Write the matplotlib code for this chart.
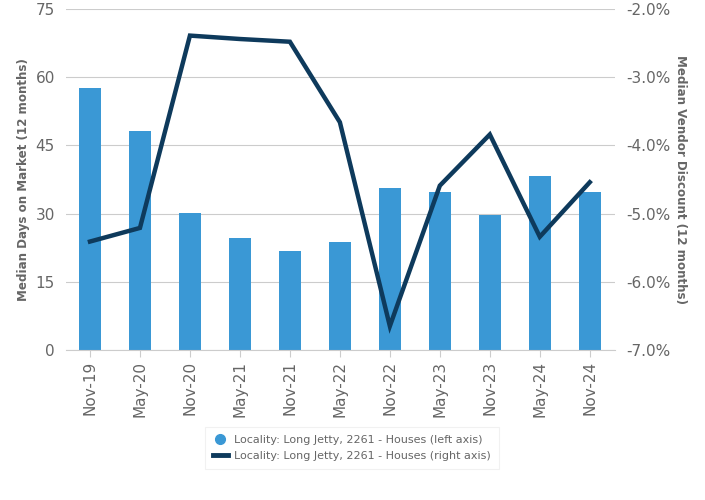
import matplotlib
matplotlib.use("Agg")
import matplotlib.pyplot as plt
from matplotlib.lines import Line2D

categories = ["Nov-19", "May-20", "Nov-20", "May-21", "Nov-21", "May-22",
              "Nov-22", "May-23", "Nov-23", "May-24", "Nov-24"]
days_on_market = [57.6, 48.2, 30.2, 24.6, 21.8, 23.8, 35.6, 34.7, 29.7, 38.3, 34.7]
vendor_discount = [-5.41, -5.21, -2.39, -2.44, -2.48, -3.66, -6.65, -4.59, -3.84, -5.34, -4.54]
left_ticks = [0, 15, 30, 45, 60, 75]
right_ticks = [-7.0, -6.0, -5.0, -4.0, -3.0, -2.0]
series_name = "Locality: Long Jetty, 2261 - Houses"

bar_color = "#3a98d5"
line_color = "#0e3a5c"
text_color = "#666666"

plt.rcParams['font.family'] = ['DejaVu Sans']
fig = plt.figure(figsize=(7.05, 5.0), dpi=100)
ax = fig.add_axes([0.0936, 0.30, 0.7784, 0.682])
x = list(range(len(categories)))
ax.bar(x, days_on_market, width=0.45, color=bar_color, zorder=2)
ax.set_xlim(-0.48, 10.5)
ax.set_ylim(0, 75)
ax.set_yticks(left_ticks)
ax.set_yticklabels([str(t) for t in left_ticks])
ax.grid(axis='y', color='#cccccc', linewidth=0.8, zorder=0)
ax.set_axisbelow(True)
for s in ['top', 'right', 'left']:
    ax.spines[s].set_visible(False)
ax.spines['bottom'].set_color('#cccccc')
ax.tick_params(axis='y', length=0, labelsize=11, labelcolor=text_color, pad=8)
ax.tick_params(axis='x', length=5, color='#cccccc', labelsize=11, labelcolor=text_color, pad=3)
ax.set_xticks(x)
ax.set_xticklabels(categories, rotation=90)
ax.set_ylabel("Median Days on Market (12 months)", fontsize=8.6, fontweight='bold', color=text_color, labelpad=4)

ax2 = ax.twinx()
ax2.plot(x, vendor_discount, color=line_color, linewidth=3.2, zorder=3, solid_joinstyle='miter')
ax2.set_ylim(-7.0, -2.0)
ax2.set_yticks(right_ticks)
ax2.set_yticklabels([f"{t:.1f}%" for t in right_ticks])
for s in ['top', 'right', 'left', 'bottom']:
    ax2.spines[s].set_visible(False)
ax2.tick_params(axis='y', length=0, labelsize=11, labelcolor=text_color, pad=8)
ax2.set_ylabel("Median Vendor Discount (12 months)", fontsize=8.6, fontweight='bold', color=text_color,
               rotation=270, labelpad=12)

handles = [
    Line2D([0], [0], marker='o', color='none', markerfacecolor=bar_color, markeredgecolor=bar_color, markersize=7),
    Line2D([0], [0], color=line_color, linewidth=3.5),
]
labels = [series_name + " (left axis)", series_name + " (right axis)"]
leg = fig.legend(handles, labels, loc='center', bbox_to_anchor=(352 / 705, 1 - 448 / 500),
                 fontsize=8, frameon=True, fancybox=False, handlelength=1.3, handletextpad=0.6,
                 labelspacing=0.5, borderpad=0.7)
leg.get_frame().set_edgecolor('#eeeeee')
leg.get_frame().set_linewidth(0.8)
for t in leg.get_texts():
    t.set_color(text_color)

fig.savefig("out.png", dpi=100)
